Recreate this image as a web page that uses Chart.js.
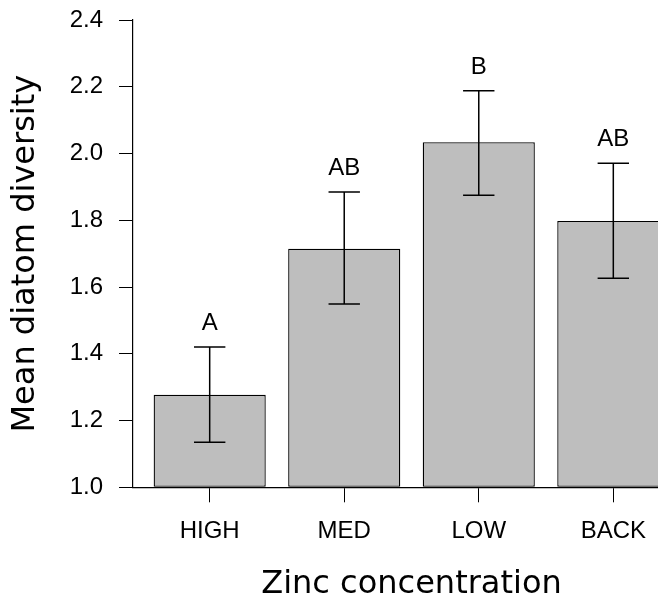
<!DOCTYPE html>
<html><head><meta charset="utf-8">
<script src="https://cdn.jsdelivr.net/npm/chart.js@4.4.1/dist/chart.umd.min.js"></script>
<style>html,body{margin:0;padding:0;overflow:hidden;background:#fff}canvas{display:block}</style>
</head><body>
<canvas id="c" width="690" height="605"></canvas>
<script>
const categories = ['HIGH', 'MED', 'LOW', 'BACK'];
const meanDiversity = [1.277, 1.715, 2.034, 1.798];
const upperError = [1.420, 1.885, 2.188, 1.971];
const lowerError = [1.135, 1.549, 1.875, 1.626];
const groupLetters = ['A', 'AB', 'B', 'AB'];
const yTickValues = [1.0, 1.2, 1.4, 1.6, 1.8, 2.0, 2.2, 2.4];
const xTitle = 'Zinc concentration';
const yTitle = 'Mean diatom diversity';

// R barplot geometry: width 1, space 0.2, xlim extended by 4%
const BAR_WIDTH = 1, BAR_SPACE = 0.2;
const centers = categories.map((_, i) => BAR_SPACE + i * (BAR_WIDTH + BAR_SPACE) + BAR_WIDTH / 2);
const xLo = BAR_SPACE, xHi = categories.length * (BAR_WIDTH + BAR_SPACE);
const xExt = (xHi - xLo) * 0.04;
const tickFont = { family: '"Liberation Sans", Arial, sans-serif', size: 24 };
const titleFont = { family: '"DejaVu Sans", sans-serif', size: 32 };

const errPlugin = {
  id: 'errbars',
  afterDatasetsDraw(chart) {
    const { ctx, scales: { x, y } } = chart;
    ctx.save();
    ctx.strokeStyle = '#000';
    ctx.lineWidth = 1.5;
    ctx.fillStyle = '#000';
    ctx.font = '24px "Liberation Sans", Arial, sans-serif';
    ctx.textAlign = 'center';
    ctx.textBaseline = 'middle';
    centers.forEach((c, i) => {
      const px = x.getPixelForValue(c);
      const l = x.getPixelForValue(c - 0.14), r = x.getPixelForValue(c + 0.14);
      const yu = y.getPixelForValue(upperError[i]);
      const yl = y.getPixelForValue(lowerError[i]);
      ctx.beginPath();
      ctx.moveTo(px, yu); ctx.lineTo(px, yl);
      ctx.moveTo(l, yu); ctx.lineTo(r, yu);
      ctx.moveTo(l, yl); ctx.lineTo(r, yl);
      ctx.stroke();
      ctx.fillText(groupLetters[i], px, y.getPixelForValue(upperError[i] + 0.07));
    });
    ctx.restore();
  }
};

new Chart(document.getElementById('c'), {
  type: 'bar',
  data: {
    datasets: [{
      data: centers.map((c, i) => ({ x: c, y: meanDiversity[i] })),
      base: 1,
      backgroundColor: '#bebebe',
      borderColor: '#000',
      borderWidth: 1.3,
      borderSkipped: false,
      categoryPercentage: 1,
      barPercentage: BAR_WIDTH / (BAR_WIDTH + BAR_SPACE)
    }]
  },
  options: {
    responsive: false,
    animation: false,
    devicePixelRatio: 1,
    layout: { padding: { top: 20, left: 0, right: 0, bottom: 0 } },
    plugins: { legend: { display: false }, tooltip: { enabled: false } },
    scales: {
      x: {
        type: 'linear',
        min: xLo - xExt,
        max: xHi + xExt,
        offset: false,
        afterBuildTicks: s => { s.ticks = centers.map(v => ({ value: v })); },
        afterFit: s => { s.height = 117.7; s.paddingLeft = 0; s.paddingRight = 0; },
        grid: { display: true, offset: false, drawOnChartArea: false, drawTicks: true, tickLength: 15, color: '#000', lineWidth: 1 },
        border: { display: true, color: '#000', width: 1.2 },
        ticks: {
          autoSkip: false, maxRotation: 0, minRotation: 0, padding: 15,
          color: '#000', font: tickFont,
          callback: (v, i) => categories[i]
        },
        title: { display: true, text: xTitle, color: '#000', font: titleFont, padding: { top: 0, bottom: 1.2 } }
      },
      y: {
        min: 1.0,
        max: 2.4,
        afterBuildTicks: s => { s.ticks = yTickValues.map(v => ({ value: v })); },
        afterFit: s => { s.width = 133; s.paddingTop = 0; s.paddingBottom = 0; },
        grid: { display: true, drawOnChartArea: false, drawTicks: true, tickLength: 14, color: '#000', lineWidth: 1 },
        border: { display: true, color: '#000', width: 1.2 },
        ticks: {
          padding: 16, color: '#000', font: tickFont,
          callback: v => Number(v).toFixed(1)
        },
        title: { display: true, text: yTitle, color: '#000', font: titleFont, padding: { top: 6.4, bottom: 0 } }
      }
    }
  },
  plugins: [errPlugin]
});
</script>
</body></html>
